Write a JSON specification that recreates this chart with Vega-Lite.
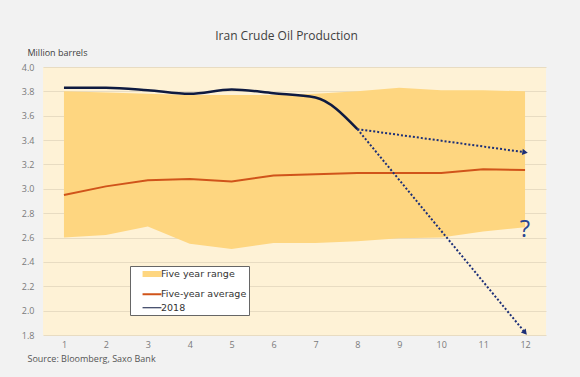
{
  "$schema": "https://vega.github.io/schema/vega-lite/v6.json",
  "autosize": {"type": "none"},
  "width": 503,
  "height": 268,
  "padding": {"left": 43, "top": 67, "right": 34, "bottom": 42},
  "background": "#f2f2f2",
  "title": {
    "text": "Iran Crude Oil Production",
    "fontSize": 12,
    "font": "Open Sans",
    "fontWeight": "normal",
    "color": "#404040",
    "anchor": "middle",
    "dx": -8,
    "offset": 5
  },
  "config": {
    "view": {"fill": "#fef2d6", "stroke": null},
    "font": "Open Sans"
  },
  "datasets": {
    "prod": [
      {"month": 1, "upper": 3.80, "lower": 2.60, "avg": 2.95, "y2018": 3.83},
      {"month": 2, "upper": 3.79, "lower": 2.62, "avg": 3.02, "y2018": 3.83},
      {"month": 3, "upper": 3.78, "lower": 2.69, "avg": 3.07, "y2018": 3.81},
      {"month": 4, "upper": 3.77, "lower": 2.55, "avg": 3.08, "y2018": 3.78},
      {"month": 5, "upper": 3.77, "lower": 2.505, "avg": 3.06, "y2018": 3.815},
      {"month": 6, "upper": 3.77, "lower": 2.555, "avg": 3.11, "y2018": 3.785},
      {"month": 7, "upper": 3.78, "lower": 2.555, "avg": 3.12, "y2018": 3.75},
      {"month": 8, "upper": 3.80, "lower": 2.57, "avg": 3.13, "y2018": 3.49},
      {"month": 9, "upper": 3.83, "lower": 2.595, "avg": 3.13, "y2018": null},
      {"month": 10, "upper": 3.81, "lower": 2.60, "avg": 3.13, "y2018": null},
      {"month": 11, "upper": 3.81, "lower": 2.65, "avg": 3.16, "y2018": null},
      {"month": 12, "upper": 3.80, "lower": 2.685, "avg": 3.155, "y2018": null}
    ],
    "scenarios": [
      {"scenario": "mild", "month": 8, "value": 3.49},
      {"scenario": "mild", "month": 12, "value": 3.30},
      {"scenario": "severe", "month": 8, "value": 3.49},
      {"scenario": "severe", "month": 12, "value": 1.82}
    ],
    "note": [
      {"month": 12, "value": 2.66, "label": "?"}
    ]
  },
  "encoding": {
    "x": {
      "type": "quantitative",
      "scale": {"domain": [0.5, 12.5], "nice": false, "zero": false},
      "axis": {
        "values": [1, 2, 3, 4, 5, 6, 7, 8, 9, 10, 11, 12],
        "tickCount": 12,
        "format": "d",
        "grid": false,
        "domain": false,
        "ticks": false,
        "labelFont": "Open Sans",
        "labelFontSize": 9,
        "labelColor": "#7a7a7a",
        "labelPadding": 5,
        "title": "Source: Bloomberg, Saxo Bank",
        "titleFont": "Open Sans",
        "titleFontSize": 9,
        "titleFontWeight": "normal",
        "titleColor": "#555555",
        "titleAlign": "left",
        "titleAnchor": "start",
        "titleBaseline": "middle",
        "titleX": -16,
        "titleY": 23
      }
    }
  },
  "layer": [
    {
      "data": {"name": "prod"},
      "mark": {"type": "area", "opacity": 1},
      "encoding": {
        "x": {"field": "month", "type": "quantitative"},
        "y": {
          "field": "upper",
          "type": "quantitative",
          "scale": {"domain": [1.8, 4.0], "nice": false, "zero": false},
          "axis": {
            "values": [1.8, 2.0, 2.2, 2.4, 2.6, 2.8, 3.0, 3.2, 3.4, 3.6, 3.8, 4.0],
            "tickCount": 12,
            "format": ".1f",
            "labelOverlap": false,
            "labelFlush": false,
            "grid": true,
            "gridColor": "#e8dcc2",
            "gridWidth": 1,
            "domain": false,
            "ticks": false,
            "labelFont": "Open Sans",
            "labelFontSize": 9,
            "labelColor": "#7a7a7a",
            "labelPadding": 9,
            "title": "Million barrels",
            "titleFont": "Open Sans",
            "titleFontSize": 9,
            "titleFontWeight": "normal",
            "titleColor": "#404040",
            "titleAngle": 0,
            "titleAlign": "left",
            "titleBaseline": "middle",
            "titleX": -16,
            "titleY": -15
          }
        },
        "y2": {"field": "lower"},
        "color": {
          "datum": "Five year range",
          "type": "nominal",
          "scale": {
            "domain": ["Five year range", "Five-year average", "2018"],
            "range": ["#fed680", "#d0541a", "#0e1a40"]
          },
          "legend": {
            "title": null,
            "orient": "none",
            "legendX": 87,
            "legendY": 199,
            "direction": "vertical",
            "symbolType": "M-3.45,0H3.45",
            "symbolSize": 30,
            "symbolOffset": 14,
            "labelFont": "DejaVu Sans",
            "labelFontSize": 9.5,
            "labelColor": "#333333",
            "labelOffset": 3,
            "rowPadding": 2.5,
            "padding": 2,
            "fillColor": "#ffffff",
            "strokeColor": "#666666"
          }
        },
        "strokeWidth": {
          "datum": "Five year range",
          "type": "nominal",
          "scale": {
            "domain": ["Five year range", "Five-year average", "2018"],
            "range": [6, -2]
          },
          "legend": {
            "title": null,
            "orient": "none",
            "legendX": 87,
            "legendY": 199
          }
        }
      }
    },
    {
      "data": {"name": "prod"},
      "mark": {"type": "line", "strokeWidth": 2},
      "encoding": {
        "x": {"field": "month", "type": "quantitative"},
        "y": {"field": "avg", "type": "quantitative"},
        "color": {"datum": "Five-year average", "type": "nominal"}
      }
    },
    {
      "data": {"name": "prod"},
      "transform": [{"filter": "datum.y2018 != null"}],
      "mark": {"type": "line", "strokeWidth": 2.5, "interpolate": "monotone"},
      "encoding": {
        "x": {"field": "month", "type": "quantitative"},
        "y": {"field": "y2018", "type": "quantitative"},
        "color": {"datum": "2018", "type": "nominal"}
      }
    },
    {
      "data": {"name": "scenarios"},
      "mark": {"type": "line", "strokeWidth": 2, "strokeDash": [2, 2], "color": "#1c2f78"},
      "encoding": {
        "x": {"field": "month", "type": "quantitative"},
        "y": {"field": "value", "type": "quantitative"},
        "detail": {"field": "scenario"}
      }
    },
    {
      "data": {"name": "scenarios"},
      "transform": [{"filter": "datum.month == 12 && datum.scenario == 'mild'"}],
      "mark": {"type": "point", "shape": "triangle-right", "filled": true, "size": 40, "angle": 8, "color": "#1c2f78", "opacity": 1},
      "encoding": {
        "x": {"field": "month", "type": "quantitative"},
        "y": {"field": "value", "type": "quantitative"}
      }
    },
    {
      "data": {"name": "scenarios"},
      "transform": [{"filter": "datum.month == 12 && datum.scenario == 'severe'"}],
      "mark": {"type": "point", "shape": "triangle-right", "filled": true, "size": 40, "angle": 50, "color": "#1c2f78", "opacity": 1},
      "encoding": {
        "x": {"field": "month", "type": "quantitative"},
        "y": {"field": "value", "type": "quantitative"}
      }
    },
    {
      "data": {"name": "note"},
      "mark": {"type": "text", "fontSize": 24, "font": "Open Sans", "color": "#2a4590", "baseline": "middle", "align": "center"},
      "encoding": {
        "x": {"field": "month", "type": "quantitative"},
        "y": {"field": "value", "type": "quantitative"},
        "text": {"field": "label"}
      }
    }
  ]
}
